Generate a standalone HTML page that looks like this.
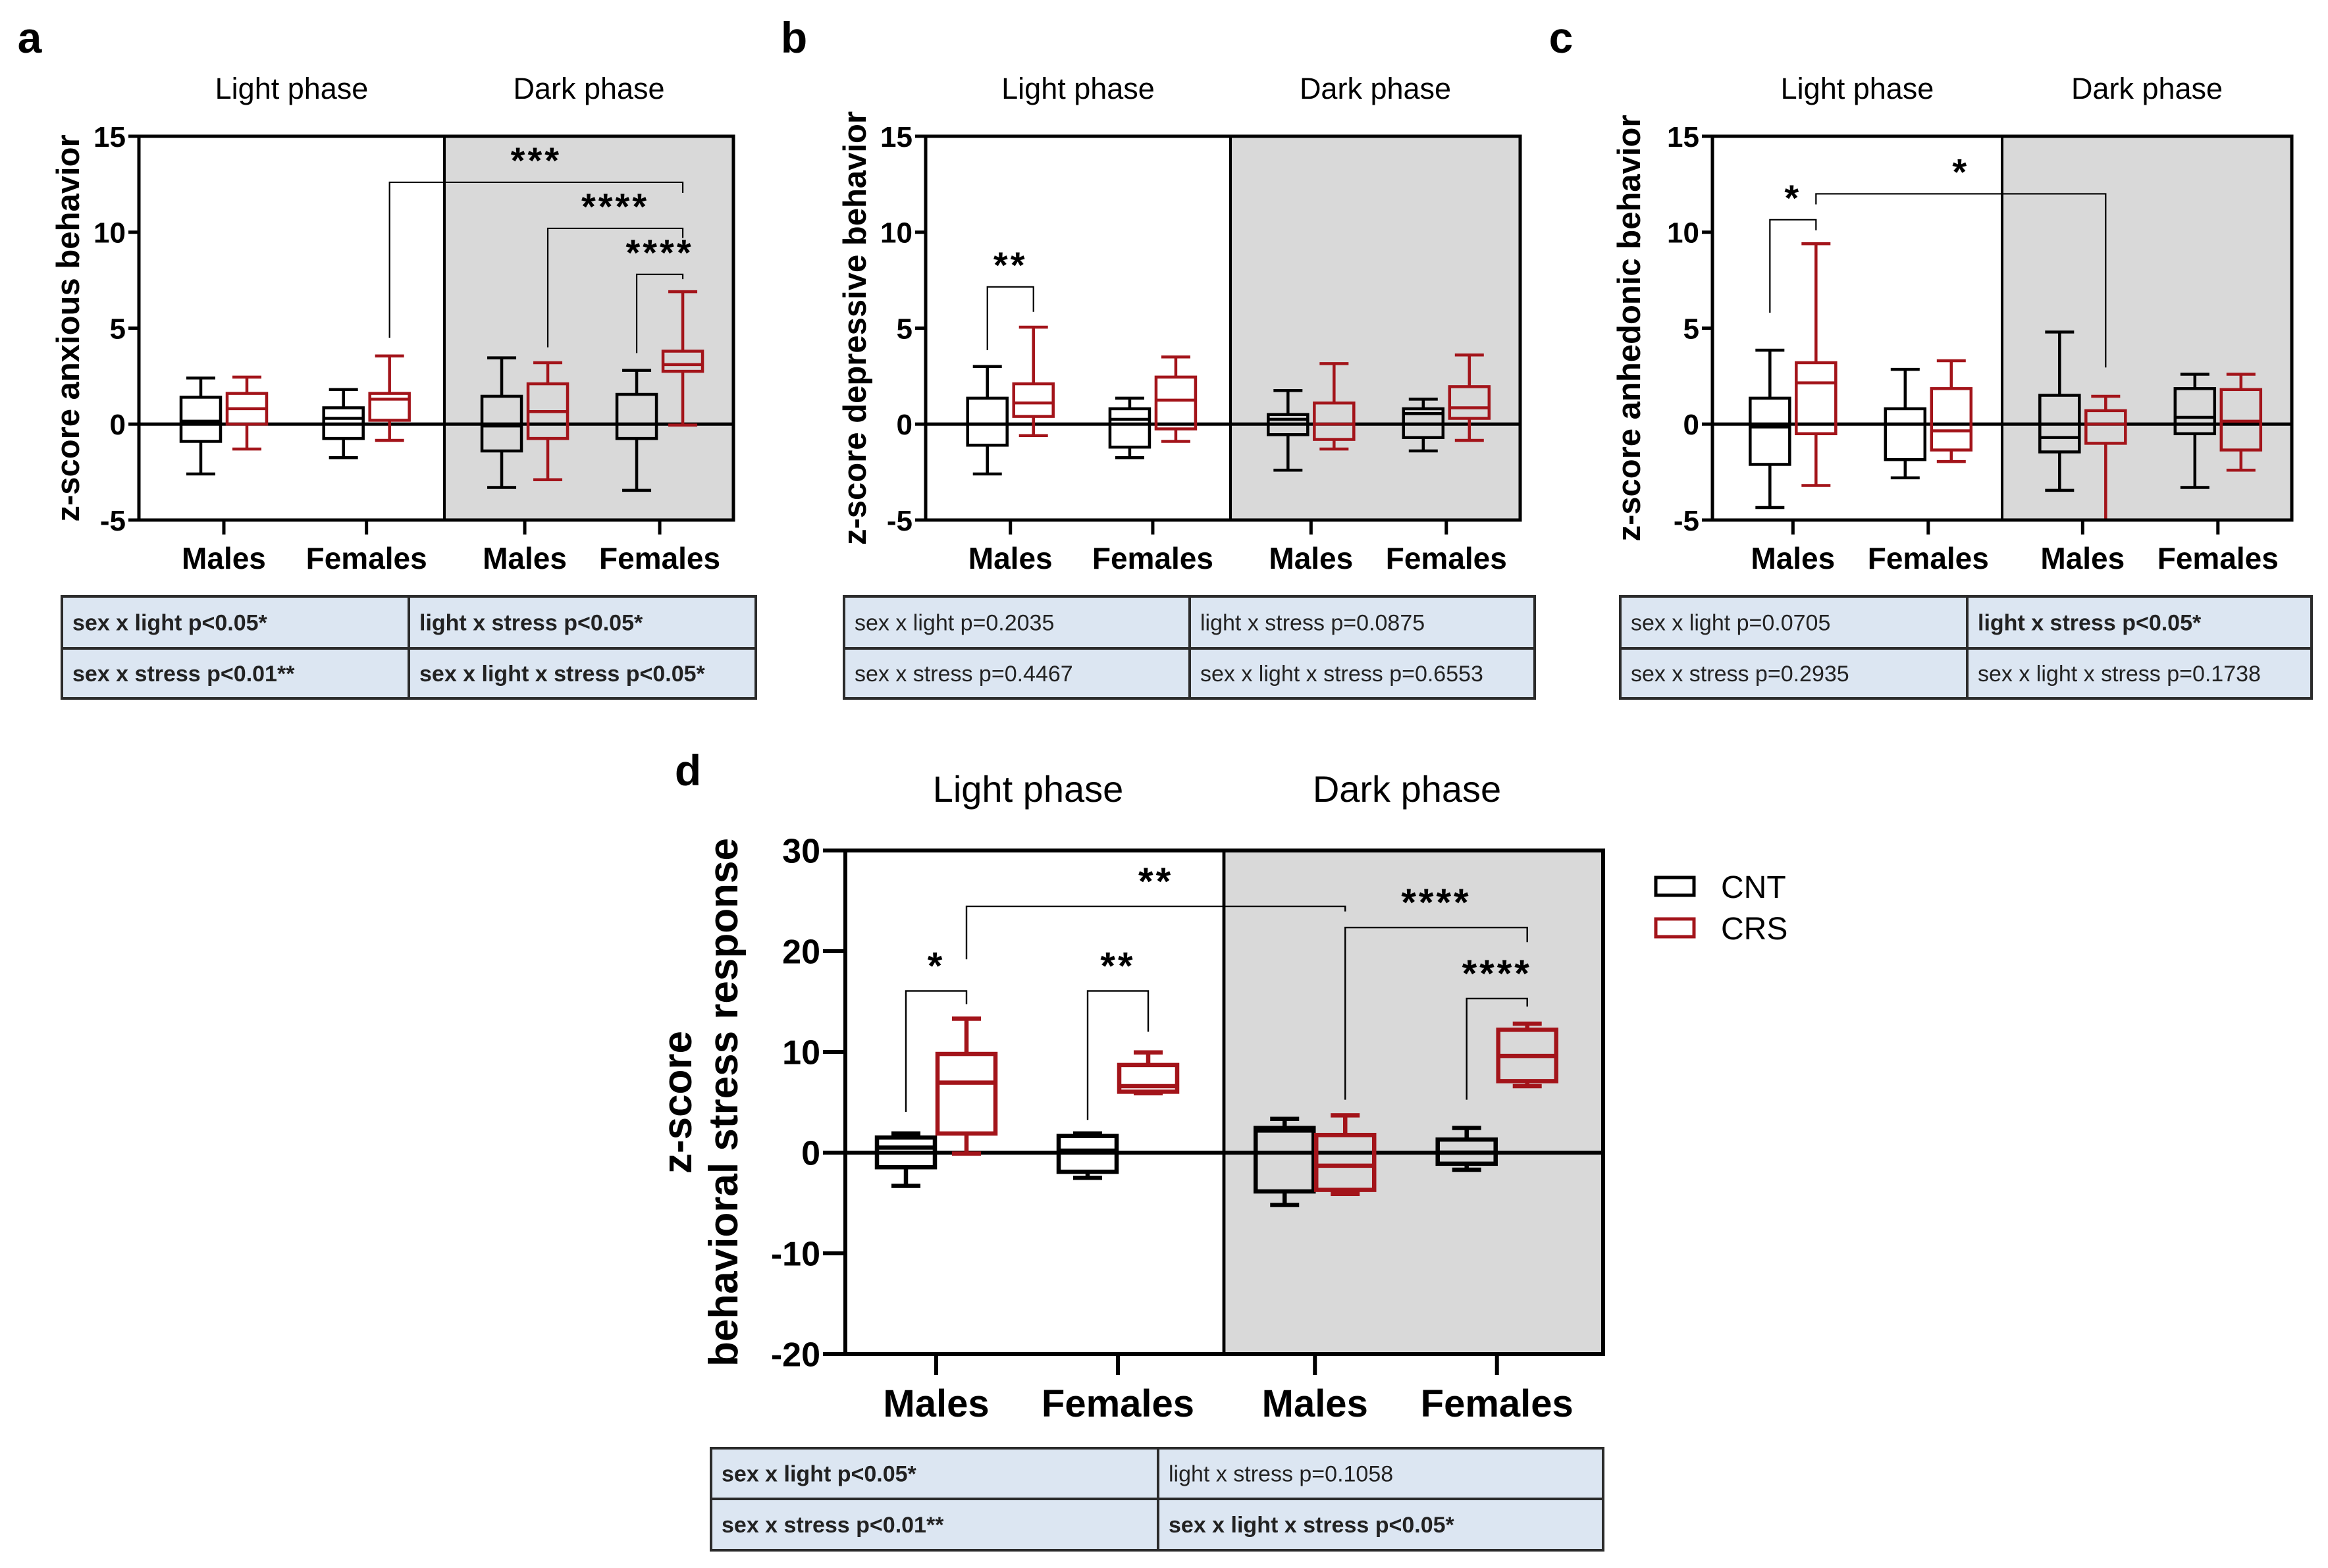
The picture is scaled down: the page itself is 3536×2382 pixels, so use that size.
<!DOCTYPE html>
<html><head><meta charset="utf-8">
<style>
html,body{margin:0;padding:0;background:#fff;}
svg{display:block;}
text{font-family:"Liberation Sans",Arial,sans-serif;}
</style></head>
<body>
<svg id="fig" xmlns="http://www.w3.org/2000/svg" width="3536" height="2382" viewBox="0 0 3536 2382">
<rect x="0" y="0" width="3536" height="2382" fill="#fff"/>
</svg>
<script>
// ---------- DATA ----------
const categories = ["Males", "Females", "Males", "Females"];
const phases = ["Light phase", "Dark phase"];
const seriesNames = ["CNT", "CRS"];
// [low whisker, Q1, median, Q3, high whisker]
const aCnt = [[-2.6,-0.9,0.15,1.4,2.4],[-1.75,-0.75,0.3,0.85,1.8],[-3.3,-1.4,-0.1,1.45,3.45],[-3.45,-0.75,0.0,1.55,2.8]];
const aCrs = [[-1.3,0.0,0.8,1.6,2.45],[-0.85,0.2,1.3,1.6,3.55],[-2.9,-0.75,0.65,2.1,3.2],[-0.05,2.75,3.1,3.8,6.9]];
const bCnt = [[-2.6,-1.1,0.0,1.35,3.0],[-1.75,-1.2,0.25,0.8,1.35],[-2.4,-0.55,0.25,0.5,1.75],[-1.4,-0.7,0.55,0.8,1.3]];
const bCrs = [[-0.6,0.4,1.1,2.1,5.05],[-0.9,-0.25,1.25,2.45,3.5],[-1.3,-0.8,0.0,1.1,3.15],[-0.85,0.3,0.85,1.95,3.6]];
const cCnt = [[-4.35,-2.1,-0.15,1.35,3.85],[-2.8,-1.85,0.0,0.8,2.85],[-3.45,-1.45,-0.7,1.5,4.8],[-3.3,-0.5,0.35,1.85,2.6]];
const cCrs = [[-3.2,-0.5,2.15,3.2,9.4],[-1.95,-1.35,-0.35,1.85,3.3],[-5.0,-1.0,0.0,0.7,1.45],[-2.4,-1.35,0.15,1.8,2.6]];
const dCnt = [[-3.3,-1.45,0.5,1.5,1.9],[-2.5,-1.9,0.2,1.65,1.9],[-5.2,-3.85,2.2,2.45,3.35],[-1.7,-1.1,0.0,1.3,2.45]];
const dCrs = [[-0.1,1.9,6.95,9.8,13.3],[5.9,6.05,6.6,8.7,9.95],[-4.1,-3.7,-1.3,1.75,3.7],[6.6,7.1,9.6,12.2,12.8]];
const yTicksABC = [-5, 0, 5, 10, 15];
const yTicksD = [-20, -10, 0, 10, 20, 30];
// brackets: [group1, series1, group2, series2, top, leftBottom, rightBottom]
const aBrackets = [[1,1,3,1,12.6,4.5,12.05],[2,1,3,1,10.2,4.0,9.7],[3,0,3,1,7.8,3.7,7.55]];
const aBracketLabels = ["***","****","****"];
const bBrackets = [[0,0,0,1,7.15,3.85,5.85]];
const bBracketLabels = ["**"];
const cBrackets = [[0,0,0,1,10.65,5.8,10.1],[0,1,2,1,12.0,11.45,2.95]];
const cBracketLabels = ["*","*"];
const dBrackets = [[0,0,0,1,16.05,4.05,14.75],[1,0,1,1,16.05,3.25,12.0],[0,1,2,1,24.45,19.2,23.95],[2,1,3,1,22.35,5.25,20.9],[3,0,3,1,15.3,5.25,14.5]];
const dBracketLabels = ["*","**","**","****","****"];
const aTable = [["sex x light p<0.05*","light x stress p<0.05*"],["sex x stress p<0.01**","sex x light x stress p<0.05*"]];
const aTableBold = [[1,1],[1,1]];
const bTable = [["sex x light p=0.2035","light x stress p=0.0875"],["sex x stress p=0.4467","sex x light x stress p=0.6553"]];
const bTableBold = [[0,0],[0,0]];
const cTable = [["sex x light p=0.0705","light x stress p<0.05*"],["sex x stress p=0.2935","sex x light x stress p=0.1738"]];
const cTableBold = [[0,1],[0,0]];
const dTable = [["sex x light p<0.05*","light x stress p=0.1058"],["sex x stress p<0.01**","sex x light x stress p<0.05*"]];
const dTableBold = [[1,0],[1,1]];

// ---------- LAYOUT ----------
const RED = "#a3141a";
const NS = "http://www.w3.org/2000/svg";
const svg = document.getElementById("fig");
function mk(tag, attrs, parent) {
  const el = document.createElementNS(NS, tag);
  for (const k in attrs) el.setAttribute(k, attrs[k]);
  (parent || svg).appendChild(el);
  return el;
}

const LA = {id:"a", letter:"a", letterX:45, left:211, right:1114, div:675, top:207, bottom:790, ymin:-5, ymax:15,
  fr:[0.278,0.745], off:35, bw:60, cap:44, sw:5, boxSw:4.5, tickLen:16, xTickLen:22, tickFont:44, catFont:46, catY:864,
  phaseFont:45, phaseY:150, yTitle:["z-score anxious behavior"], yTitleX:[120], yTitleFont:49,
  table:{x1:94, x2:1148, split:621, y1:906, mid:985, y2:1061, font:34}, starFont:56, brSw:2.2};
const LB = Object.assign({}, LA, {id:"b", letter:"b", letterX:1206, left:1406, right:2309, div:1869,
  yTitle:["z-score depressive behavior"], yTitleX:[1315], table:{x1:1282, x2:2331, split:1807, y1:906, mid:985, y2:1061, font:34}});
const LC = Object.assign({}, LA, {id:"c", letter:"c", letterX:2371, left:2601, right:3481, div:3041,
  yTitle:["z-score anhedonic behavior"], yTitleX:[2491], table:{x1:2461, x2:3511, split:2988, y1:906, mid:985, y2:1061, font:34}});
const LD = {id:"d", letter:"d", letterX:1045, letterY:1193, left:1284, right:2435, div:1859, top:1292, bottom:2057, ymin:-20, ymax:30,
  fr:[0.24,0.72], off:46, bw:88, cap:44, sw:6, boxSw:6.5, tickLen:34, xTickLen:32, tickFont:52, catFont:58, catY:2152,
  phaseFont:56, phaseY:1218, yTitle:["z-score","behavioral stress response"], yTitleX:[1050,1120], yTitleFont:62,
  table:{x1:1080, x2:2435, split:1759, y1:2200, mid:2277, y2:2355, font:34}, starFont:58, brSw:2.4};

function drawPanel(L, cnt, crs, yTicks, brackets, brLabels, table, tableBold) {
  const g = mk("g", {});
  
  
  const y = v => L.top + (L.ymax - v) / (L.ymax - L.ymin) * (L.bottom - L.top);
  const groupX = i => {
    const half = i < 2 ? 0 : 1;
    const a = half === 0 ? L.left : L.div, b = half === 0 ? L.div : L.right;
    return a + (b - a) * L.fr[i % 2];
  };
  const seriesX = (i, s) => groupX(i) + (s === 0 ? -L.off : L.off);

  const lt = mk("text", {x:L.letterX, y:L.letterY || 80, "font-size":66, "font-weight":"bold", "text-anchor":"middle"}, g);
  lt.textContent = L.letter;
  
  

  [[L.left, L.div], [L.div, L.right]].forEach((r, k) => {
    const t = mk("text", {x:(r[0] + r[1]) / 2 + (L.id === "d" ? -10 : 0), y:L.phaseY, "font-size":L.phaseFont, "text-anchor":"middle"}, g);
    t.textContent = phases[k];
    
    
  });

  const bg = mk("rect", {x:L.div, y:L.top, width:L.right - L.div, height:L.bottom - L.top, fill:"#d9d9d9"}, g);
  
  

  const zl = mk("line", {x1:L.left, x2:L.right, y1:y(0), y2:y(0), stroke:"#000", "stroke-width":L.sw}, g);
  
  

  [cnt, crs].forEach((ser, s) => {
    const col = s === 0 ? "#000" : RED;
    ser.forEach((v, i) => {
      const cx = seriesX(i, s);
      const bx = mk("g", {stroke:col, "stroke-width":L.boxSw, fill:"none"}, g);
      
      
      mk("line", {x1:cx, x2:cx, y1:y(v[4]), y2:y(v[3])}, bx);
      mk("line", {x1:cx, x2:cx, y1:y(v[1]), y2:y(v[0])}, bx);
      mk("line", {x1:cx - L.cap / 2, x2:cx + L.cap / 2, y1:y(v[4]), y2:y(v[4])}, bx);
      mk("line", {x1:cx - L.cap / 2, x2:cx + L.cap / 2, y1:y(v[0]), y2:y(v[0])}, bx);
      mk("rect", {x:cx - L.bw / 2, y:y(v[3]), width:L.bw, height:Math.max(1, y(v[1]) - y(v[3]))}, bx);
      mk("line", {x1:cx - L.bw / 2, x2:cx + L.bw / 2, y1:y(v[2]), y2:y(v[2])}, bx);
    });
  });

  const fr = mk("rect", {x:L.left, y:L.top, width:L.right - L.left, height:L.bottom - L.top, fill:"none", stroke:"#000", "stroke-width":L.sw}, g);
  
  
  const dv = mk("line", {x1:L.div, x2:L.div, y1:L.top, y2:L.bottom, stroke:"#000", "stroke-width":L.sw * 0.8}, g);
  
  

  yTicks.forEach(t => {
    const tl = mk("line", {x1:L.left - L.tickLen, x2:L.left, y1:y(t), y2:y(t), stroke:"#000", "stroke-width":L.sw}, g);
    
    
    const tx = mk("text", {x:L.left - L.tickLen - 4, y:y(t) + L.tickFont * 0.36, "font-size":L.tickFont, "font-weight":"bold", "text-anchor":"end"}, g);
    tx.textContent = String(t);
    
    
  });

  categories.forEach((c, i) => {
    const gx = groupX(i);
    const tl = mk("line", {x1:gx, x2:gx, y1:L.bottom, y2:L.bottom + L.xTickLen, stroke:"#000", "stroke-width":L.sw}, g);
    
    
    const tx = mk("text", {x:gx, y:L.catY, "font-size":L.catFont, "font-weight":"bold", "text-anchor":"middle"}, g);
    tx.textContent = c;
    
    
  });

  const cyT = (L.top + L.bottom) / 2;
  L.yTitle.forEach((t, k) => {
    const tx = mk("text", {x:L.yTitleX[k], y:cyT, "font-size":L.yTitleFont, "font-weight":"bold", "text-anchor":"middle",
      transform:"rotate(-90 " + L.yTitleX[k] + " " + cyT + ")"}, g);
    tx.textContent = t;
    
    
  });

  brackets.forEach((b, k) => {
    const x1 = seriesX(b[0], b[1]), x2 = seriesX(b[2], b[3]);
    const p = mk("polyline", {points:[x1, y(b[5]), x1, y(b[4]), x2, y(b[4]), x2, y(b[6])].join(" "), fill:"none", stroke:"#000", "stroke-width":L.brSw}, g);
    
    
    const st = mk("text", {x:(x1 + x2) / 2, y:y(b[4]) - (L.id === "d" ? 18 : 14), "font-size":L.starFont, "font-weight":"bold", "text-anchor":"middle", "letter-spacing":"4"}, g);
    st.textContent = brLabels[k];
    
    
  });

  const T = L.table;
  const tg = mk("g", {}, g);
  
  
  mk("rect", {x:T.x1, y:T.y1, width:T.x2 - T.x1, height:T.y2 - T.y1, fill:"#dce6f2", stroke:"#2b2b2b", "stroke-width":4}, tg);
  mk("line", {x1:T.x1, x2:T.x2, y1:T.mid, y2:T.mid, stroke:"#2b2b2b", "stroke-width":4}, tg);
  mk("line", {x1:T.split, x2:T.split, y1:T.y1, y2:T.y2, stroke:"#2b2b2b", "stroke-width":4}, tg);
  table.forEach((row, r) => row.forEach((cell, c) => {
    const cx = (c === 0 ? T.x1 : T.split) + 16;
    const cy = (r === 0 ? (T.y1 + T.mid) / 2 : (T.mid + T.y2) / 2) + T.font * 0.36;
    const tx = mk("text", {x:cx, y:cy, "font-size":T.font, "font-weight":tableBold[r][c] ? "bold" : "normal", fill:"#222"}, tg);
    tx.textContent = cell;
    
    
  }));
}

drawPanel(LA, aCnt, aCrs, yTicksABC, aBrackets, aBracketLabels, aTable, aTableBold);
drawPanel(LB, bCnt, bCrs, yTicksABC, bBrackets, bBracketLabels, bTable, bTableBold);
drawPanel(LC, cCnt, cCrs, yTicksABC, cBrackets, cBracketLabels, cTable, cTableBold);
drawPanel(LD, dCnt, dCrs, yTicksD, dBrackets, dBracketLabels, dTable, dTableBold);

const lg = mk("g", {});


seriesNames.forEach((n, k) => {
  const yy = 1333 + k * 63;
  const r = mk("rect", {x:2515, y:yy, width:58, height:27, fill:"none", stroke:k === 0 ? "#000" : RED, "stroke-width":5}, lg);
  
  
  const t = mk("text", {x:2614, y:yy + 31, "font-size":48}, lg);
  t.textContent = n;
  
  
});
</script>
</body></html>
